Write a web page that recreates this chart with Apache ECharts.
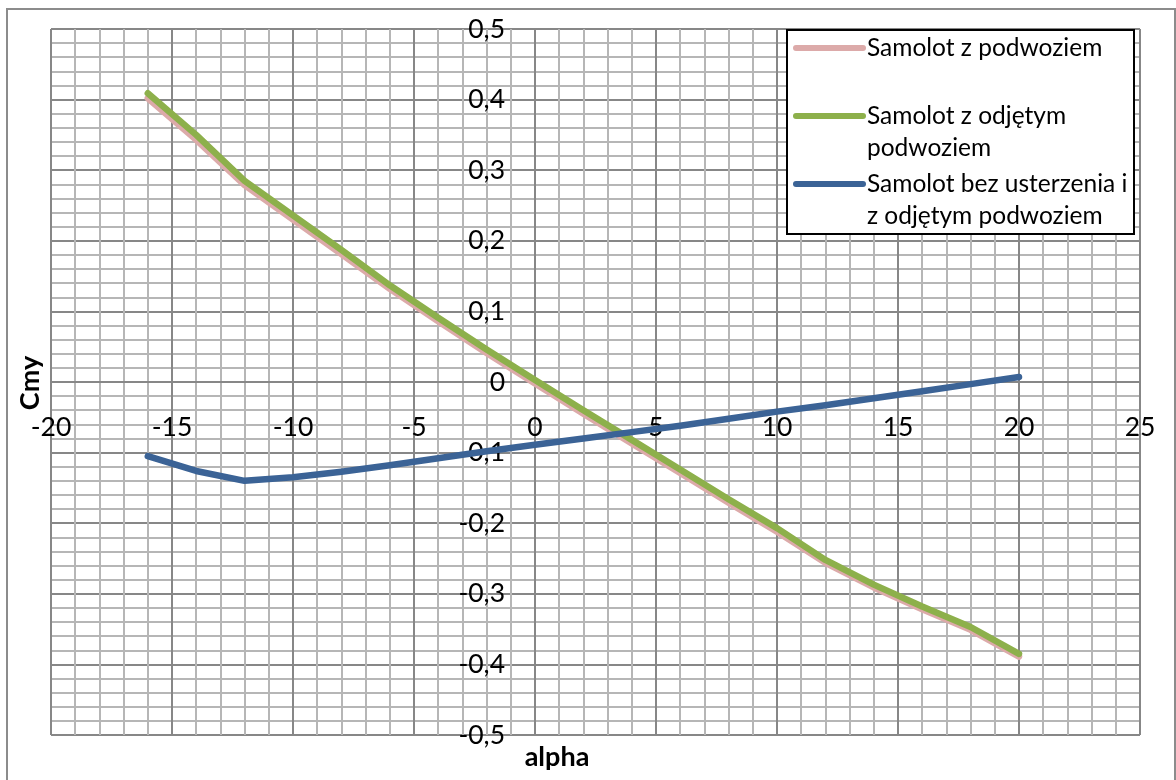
<!DOCTYPE html>
<html>
<head>
<meta charset="utf-8">
<script src="https://cdn.jsdelivr.net/npm/echarts@6/dist/echarts.min.js"></script>
<style>
  html, body { margin: 0; padding: 0; background: #fff; }
  #chart { width: 1176px; height: 780px; }
</style>
</head>
<body>
<div id="chart"></div>
<script>
// angle of attack (deg)
const alphaValues = [-16, -14, -12, -10, -8, -6, -4, -2, 0, 2, 4, 6, 8, 10, 12, 14, 16, 18, 20];

// Cmy for each configuration
const withGear = [0.402, 0.343, 0.279, 0.230, 0.181, 0.132, 0.086, 0.041, -0.002, -0.045, -0.087, -0.129, -0.171, -0.212, -0.256, -0.291, -0.322, -0.351, -0.389];
const gearRemoved = [0.409, 0.350, 0.285, 0.236, 0.187, 0.137, 0.091, 0.046, 0.003, -0.040, -0.082, -0.124, -0.166, -0.207, -0.252, -0.287, -0.318, -0.347, -0.385];
const noTailGearRemoved = [-0.105, -0.126, -0.140, -0.135, -0.127, -0.118, -0.108, -0.098, -0.089, -0.080, -0.071, -0.062, -0.052, -0.042, -0.033, -0.023, -0.013, -0.003, 0.007];

const seriesNames = [
  'Samolot z podwoziem',
  'Samolot z odjętym podwoziem',
  'Samolot bez usterzenia i z odjętym podwoziem',
];
// legend text as wrapped in the original
const legendLines = [
  ['Samolot z podwoziem'],
  ['Samolot z odjętym', 'podwoziem'],
  ['Samolot bez usterzenia i', 'z odjętym podwoziem'],
];
const seriesColors = ['#dcaaa9', '#8db04b', '#3b6396'];

const xMin = -20, xMax = 25, xStep = 5;
const yMin = -0.5, yMax = 0.5, yStep = 0.1;

const FONT = 'Lato, "Open Sans", sans-serif';
const chart = echarts.init(document.getElementById('chart'));

// plot box
const gridLeft = 51, gridTop = 29, gridRight = 36, gridBottom = 45;
const gridW = 1176 - gridLeft - gridRight;
const gridH = 780 - gridTop - gridBottom;
// axes cross at zero (onZero does not kick in here, so shift them by offset)
const xAxisOffset = -gridH * (0 - yMin) / (yMax - yMin);
const yAxisOffset = -gridW * (0 - xMin) / (xMax - xMin);

const seriesData = [withGear, gearRemoved, noTailGearRemoved];

const legendRows = [18, 86, 154];
const legendChildren = [
  {
    type: 'rect',
    z: 100,
    shape: { x: 0, y: 0, width: 347, height: 204 },
    style: { fill: '#fff', stroke: '#000', lineWidth: 2 },
  },
];
legendLines.forEach((lines, i) => {
  legendChildren.push({
    type: 'line',
    z: 101,
    shape: { x1: 9, y1: legendRows[i], x2: 76, y2: legendRows[i] },
    style: { stroke: seriesColors[i], lineWidth: 6, lineCap: 'round' },
  });
  legendChildren.push({
    type: 'text',
    z: 101,
    style: {
      text: lines.join('\n'),
      x: 80,
      y: legendRows[i] - 16,
      font: '24.5px ' + FONT,
      fill: '#000',
      lineHeight: 32,
      verticalAlign: 'top',
    },
  });
});

chart.setOption({
  animation: false,
  backgroundColor: '#fff',
  grid: { left: gridLeft, top: gridTop, right: gridRight, bottom: gridBottom, containLabel: false, outerBoundsMode: 'none' },
  xAxis: {
    type: 'value',
    min: xMin,
    max: xMax,
    interval: xStep,
    position: 'bottom',
    offset: xAxisOffset,
    axisLine: { onZero: false, lineStyle: { color: '#878787', width: 2 } },
    axisTick: { show: false },
    axisLabel: { margin: 32, fontSize: 26.5, color: '#000', fontFamily: FONT },
    splitLine: { show: true, lineStyle: { color: '#878787', width: 2 } },
    minorTick: { show: false, splitNumber: 5 },
    minorSplitLine: { show: true, lineStyle: { color: '#b6b6b6', width: 2 } },
  },
  yAxis: {
    type: 'value',
    min: yMin,
    max: yMax,
    interval: yStep,
    position: 'left',
    offset: yAxisOffset,
    axisLine: { onZero: false, lineStyle: { color: '#878787', width: 2 } },
    axisTick: { show: false },
    axisLabel: {
      margin: 30,
      fontSize: 26.5,
      color: '#000',
      fontFamily: FONT,
      formatter: (v) => String(Math.round(v * 10) / 10).replace('.', ','),
    },
    splitLine: { show: true, lineStyle: { color: '#878787', width: 2 } },
    minorTick: { show: false, splitNumber: 5 },
    minorSplitLine: { show: true, lineStyle: { color: '#b6b6b6', width: 2 } },
  },
  series: seriesData.map((vals, i) => ({
    name: seriesNames[i],
    type: 'line',
    showSymbol: false,
    symbol: 'none',
    lineStyle: { color: seriesColors[i], width: 6.5, cap: 'round', join: 'round' },
    data: alphaValues.map((a, j) => [a, vals[j]]),
  })),
  graphic: [
    {
      type: 'rect',
      silent: true,
      z: 100,
      shape: { x: 7, y: 9, width: 1168, height: 790 },
      style: { fill: 'none', stroke: '#8c8c8c', lineWidth: 2 },
    },
    {
      type: 'text',
      z: 100,
      x: 30,
      y: 383,
      rotation: Math.PI / 2,
      style: { text: 'Cmy', align: 'center', verticalAlign: 'middle', font: 'bold 27px ' + FONT, fill: '#000' },
    },
    {
      type: 'text',
      z: 100,
      x: 557,
      y: 757,
      style: { text: 'alpha', align: 'center', verticalAlign: 'middle', font: 'bold 27px ' + FONT, fill: '#000' },
    },
    {
      type: 'group',
      left: 786,
      top: 29,
      children: legendChildren,
    },
  ],
});
</script>
</body>
</html>
